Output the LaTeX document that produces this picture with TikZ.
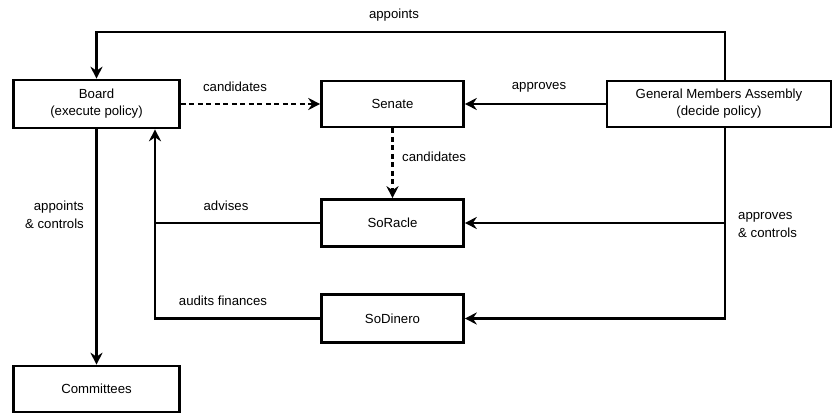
\documentclass[tikz,border=0pt]{standalone}
\usepackage{fontspec}
\setmainfont{Liberation Sans}
\usetikzlibrary{arrows.meta}
\begin{document}
\begin{tikzpicture}[x=1pt,y=-1pt,
  box/.style={draw,line width=2.6pt,align=center,inner sep=0pt,font=\fontsize{13.2}{17}\selectfont},
  lbl/.style={font=\fontsize{13.2}{18}\selectfont,inner sep=0pt},
  arr/.style={line width=2.6pt,-{Stealth[length=12pt,width=12pt,inset=4pt]}},
  ln/.style={line width=2.6pt},
  dsh/.style={dash pattern=on 5pt off 3.5pt}]
\useasboundingbox (0,0) rectangle (833,414);
\node[box,minimum width=166pt,minimum height=48pt] (board) at (96.5,104) {Board\\(execute policy)};
\node[box,minimum width=142pt,minimum height=46pt] (senate) at (392.5,104) {Senate};
\node[box,minimum width=224pt,minimum height=46pt] (gma) at (719,104) {General Members Assembly\\(decide policy)};
\node[box,minimum width=142pt,minimum height=47pt] (soracle) at (392.5,223) {SoRacle};
\node[box,minimum width=142pt,minimum height=48pt] (sodinero) at (392.5,318.5) {SoDinero};
\node[box,minimum width=166pt,minimum height=46pt] (committees) at (96.5,389) {Committees};
\coordinate (tr) at (725,32);
\coordinate (lc) at (155,318.5);
% connectors
\draw[arr] (gma.north -| tr) -- (tr) -- (tr -| board.north) -- (board.north);
\draw[arr,dsh] (board.east) -- (senate.west);
\draw[arr] (gma.west) -- (senate.east);
\draw[arr,dsh] (senate.south) -- (soracle.north);
\draw[arr] (board.south) -- (committees.north);
\draw[arr] (sodinero.west) -- (lc) -- (lc |- board.south);
\draw[ln] (soracle.west) -- (soracle.west -| lc);
\draw[arr] (gma.south -| tr) -- (sodinero.east -| tr) -- (sodinero.east);
\draw[arr] (soracle.east -| tr) -- (soracle.east);
% labels
\node[lbl] (l1) at (394,15) {appoints};
\node[lbl] (l2) at (235,87) {candidates};
\node[lbl] (l3) at (539,87) {approves};
\node[lbl,anchor=west] (l4) at (402,157) {candidates};
\node[lbl,align=right,anchor=east] (l5) at (84,215) {appoints\\\& controls};
\node[lbl] (l6) at (226,206) {advises};
\node[lbl] (l7) at (223,301) {audits finances};
\node[lbl,align=left,anchor=west] (l8) at (738,225) {approves\\\& controls};
\end{tikzpicture}
\end{document}
